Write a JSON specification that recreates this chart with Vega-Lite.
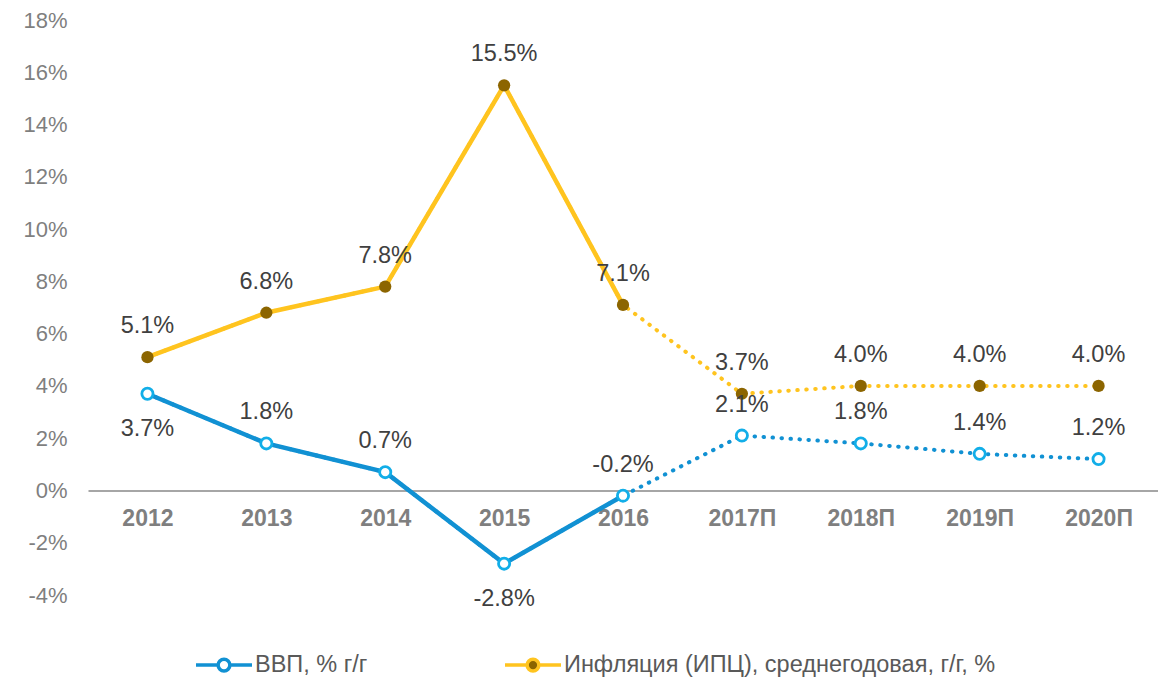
{
  "$schema": "https://vega.github.io/schema/vega-lite/v6.json",
  "autosize": {"type": "none"},
  "padding": {"left": 88, "top": 20, "right": 0, "bottom": 82},
  "width": 1070,
  "height": 575,
  "background": "#ffffff",
  "config": {
    "font": "Liberation Sans",
    "view": {"stroke": null},
    "locale": {"number": {"decimal": ".", "thousands": ",", "grouping": [3], "currency": ["$", ""], "minus": "-"}}
  },
  "data": {
    "values": [
      {"year": "2012", "series": "ВВП, % г/г", "value": 0.037, "part": "факт"},
      {"year": "2013", "series": "ВВП, % г/г", "value": 0.018, "part": "факт"},
      {"year": "2014", "series": "ВВП, % г/г", "value": 0.007, "part": "факт"},
      {"year": "2015", "series": "ВВП, % г/г", "value": -0.028, "part": "факт"},
      {"year": "2016", "series": "ВВП, % г/г", "value": -0.002, "part": "факт"},
      {"year": "2017П", "series": "ВВП, % г/г", "value": 0.021, "part": "прогноз"},
      {"year": "2018П", "series": "ВВП, % г/г", "value": 0.018, "part": "прогноз"},
      {"year": "2019П", "series": "ВВП, % г/г", "value": 0.014, "part": "прогноз"},
      {"year": "2020П", "series": "ВВП, % г/г", "value": 0.012, "part": "прогноз"},
      {"year": "2012", "series": "Инфляция (ИПЦ), среднегодовая, г/г, %", "value": 0.051, "part": "факт"},
      {"year": "2013", "series": "Инфляция (ИПЦ), среднегодовая, г/г, %", "value": 0.068, "part": "факт"},
      {"year": "2014", "series": "Инфляция (ИПЦ), среднегодовая, г/г, %", "value": 0.078, "part": "факт"},
      {"year": "2015", "series": "Инфляция (ИПЦ), среднегодовая, г/г, %", "value": 0.155, "part": "факт"},
      {"year": "2016", "series": "Инфляция (ИПЦ), среднегодовая, г/г, %", "value": 0.071, "part": "факт"},
      {"year": "2017П", "series": "Инфляция (ИПЦ), среднегодовая, г/г, %", "value": 0.037, "part": "прогноз"},
      {"year": "2018П", "series": "Инфляция (ИПЦ), среднегодовая, г/г, %", "value": 0.04, "part": "прогноз"},
      {"year": "2019П", "series": "Инфляция (ИПЦ), среднегодовая, г/г, %", "value": 0.04, "part": "прогноз"},
      {"year": "2020П", "series": "Инфляция (ИПЦ), среднегодовая, г/г, %", "value": 0.04, "part": "прогноз"}
    ]
  },
  "encoding": {
    "x": {
      "field": "year", "type": "ordinal", "sort": null,
      "axis": {
        "title": null, "labelAngle": 0, "offset": -104.5,
        "domain": true, "domainColor": "#a6a6a6", "domainWidth": 2,
        "ticks": false, "labelPadding": 17, "labelFontWeight": "bold",
        "labelFontSize": 23, "labelColor": "#7f7f7f", "labelFont": "Liberation Sans"
      }
    },
    "y": {
      "field": "value", "type": "quantitative",
      "scale": {"domain": [-0.04, 0.18], "nice": false, "zero": false},
      "axis": {
        "title": null, "values": [-0.04, -0.02, 0, 0.02, 0.04, 0.06, 0.08, 0.1, 0.12, 0.14, 0.16, 0.18],
        "format": ".0%", "domain": false, "ticks": false, "grid": false,
        "labelPadding": 21, "labelFontSize": 22, "labelColor": "#7f7f7f", "labelFont": "Liberation Sans"
      }
    }
  },
  "layer": [
    {
      "transform": [{"filter": "datum.part === 'факт'"}],
      "mark": {"type": "line", "strokeWidth": 4.5, "strokeCap": "round"},
      "encoding": {
        "color": {
          "field": "series", "type": "nominal",
          "scale": {"domain": ["ВВП, % г/г", "Инфляция (ИПЦ), среднегодовая, г/г, %"], "range": ["#1191d3", "#ffc41f"]},
          "legend": {
            "title": null, "orient": "none", "direction": "horizontal",
            "legendX": 106, "legendY": 615,
            "symbolType": "M-1,0H-0.21M0.21,0H1M-0.21,0A0.21,0.21 0 1,0 0.21,0A0.21,0.21 0 1,0 -0.21,0Z",
            "symbolSize": 3136, "symbolStrokeWidth": 3.5,
            "labelFontSize": 23.5, "labelColor": "#595959", "labelFont": "Liberation Sans",
            "labelLimit": 0,
            "labelOffset": 1, "columnPadding": 130, "padding": 0,
            "encode": {
              "symbols": {
                "update": {
                  "fill": {"signal": "datum.value === 'ВВП, % г/г' ? '#ffffff' : '#8c6500'"},
                  "fillOpacity": {"value": 1},
                  "strokeDash": {"value": []}
                }
              }
            }
          }
        }
      }
    },
    {
      "mark": {"type": "line", "strokeWidth": 4, "strokeCap": "round", "strokeDash": [0.5, 8.5]},
      "encoding": {
        "color": {"field": "series", "type": "nominal"}
      }
    },
    {
      "transform": [{"filter": "datum.series === 'ВВП, % г/г'"}],
      "mark": {"type": "point", "shape": "circle", "filled": true, "fill": "#ffffff", "stroke": "#12aee8", "strokeWidth": 2.8, "size": 125, "opacity": 1}
    },
    {
      "transform": [{"filter": "datum.series !== 'ВВП, % г/г'"}],
      "mark": {"type": "circle", "color": "#8c6500", "size": 150, "opacity": 1}
    },
    {
      "transform": [{"filter": "datum.series !== 'ВВП, % г/г' || (datum.year !== '2012' && datum.year !== '2015')"}],
      "mark": {"type": "text", "dy": -31, "fontSize": 23.5, "color": "#404040", "font": "Liberation Sans"},
      "encoding": {"text": {"field": "value", "type": "quantitative", "format": ".1%"}}
    },
    {
      "transform": [{"filter": "datum.series === 'ВВП, % г/г' && (datum.year === '2012' || datum.year === '2015')"}],
      "mark": {"type": "text", "dy": 35, "fontSize": 23.5, "color": "#404040", "font": "Liberation Sans"},
      "encoding": {"text": {"field": "value", "type": "quantitative", "format": ".1%"}}
    }
  ]
}
